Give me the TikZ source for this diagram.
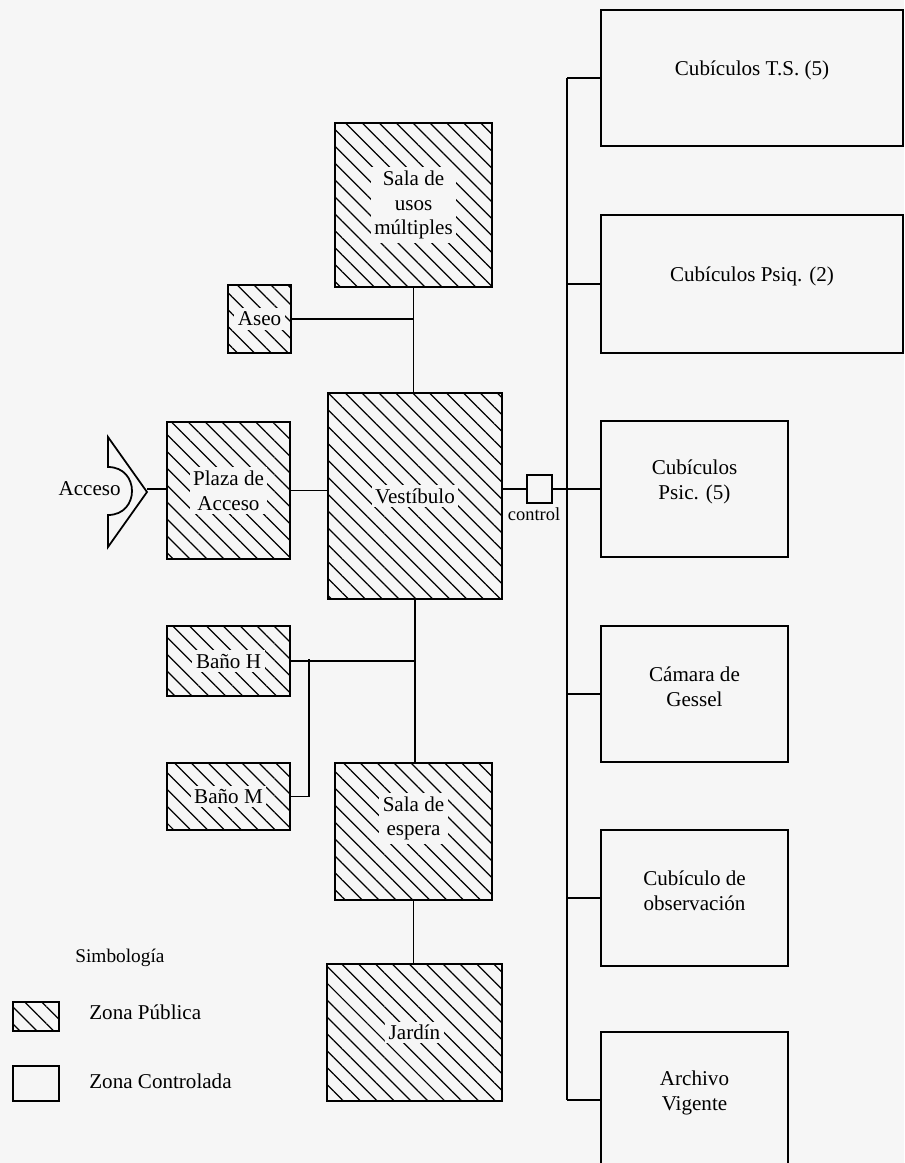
\documentclass[tikz,border=0pt]{standalone}
\usepackage{fontspec}
\setmainfont{Liberation Serif}
\usetikzlibrary{fit,patterns.meta}
\definecolor{papel}{gray}{0.965}
\tikzset{
  publica/.style={draw,line width=0.9pt,inner sep=0pt,
    pattern={Lines[angle=-45,distance=6.8pt,line width=0.7pt]}},
  controlada/.style={draw,line width=0.9pt,inner sep=0pt,align=center},
  rotulo/.style={fill=papel,inner sep=2pt,align=center},
  liga/.style={line width=1pt},
}
\begin{document}
\begin{tikzpicture}[x=0.02cm,y=-0.02cm,font=\fontsize{12}{14}\selectfont]
  \clip (0,0) rectangle (904,1163);
  \fill[papel] (0,0) rectangle (904,1163);
  % zona publica
  \node[publica,fit={(335,123) (492,287)},label={[rotulo]center:{Sala de\\usos\\múltiples}}] (salaum) {};
  \node[publica,fit={(228,285) (291,353)},label={[rotulo]center:Aseo}] (aseo) {};
  \node[publica,fit={(167,422) (290,559)},label={[rotulo]center:{Plaza de\\Acceso}}] (plaza) {};
  \node[publica,fit={(328,393) (502,599)},label={[rotulo]center:Vestíbulo}] (vest) {};
  \node[publica,fit={(167,626) (290,696)},label={[rotulo]center:Baño H}] (banoh) {};
  \node[publica,fit={(167,763) (290,830)},label={[rotulo]center:Baño M}] (banom) {};
  \node[publica,fit={(335,763) (492,900)},label={[rotulo,yshift=0.26cm]center:{Sala de\\espera}}] (espera) {};
  \node[publica,fit={(327,964) (502,1101)},label={[rotulo]center:Jardín}] (jardin) {};
  % zona controlada
  \node[controlada,fit={(601,10) (903,146)}] (cts) {Cubículos T.S. (5)};
  \node[controlada,fit={(601,215) (903,353)}] (cpsiq) {Cubículos Psiq. (2)};
  \node[controlada,fit={(601,421) (788,557)}] (cpsic) {Cubículos\\Psic. (5)};
  \node[controlada,fit={(601,626) (788,762)}] (gessel) {Cámara de\\Gessel};
  \node[controlada,fit={(601,830) (788,966)}] (obs) {Cubículo de\\observación};
  \node[controlada,fit={(601,1032) (788,1168)}] (archivo) {Archivo\\Vigente};
  \node[controlada,fit={(527,475) (552,503)}] (ctrl) {};
  \node[font=\fontsize{10.5}{12}\selectfont,inner sep=0pt] (ctrltxt) at (534,514) {control};
  % acceso
  \draw[line width=1pt] (108,437) -- (147,492) -- (108,547) -- (108,515)
    .. controls (140,515) and (140,467) .. (108,467) -- cycle;
  \coordinate (punta) at (147,489);
  \node[anchor=east,inner sep=0pt] (acceso) at (121,489) {Acceso};
  % ligas
  \draw[liga] (punta) -- (punta -| plaza.west);
  \draw[liga] (plaza.east) -- (plaza.east -| vest.west);
  \draw[liga] (salaum.south) -- (salaum.south |- vest.north);
  \draw[liga] (aseo.east) -- (aseo.east -| salaum.south);
  \draw[liga] (ctrl.west -| vest.east) -- (ctrl.west);
  \draw[liga] (ctrl.east) -- (ctrl.east -| cpsic.west);
  \draw[liga] (vest.south) -- (vest.south |- espera.north);
  \draw[liga] (banoh.east) -- (banoh.east -| vest.south);
  \coordinate (codo) at (309,659);
  \draw[liga] (banom.east) -| (codo);
  \draw[liga] (espera.south) -- (espera.south |- jardin.north);
  \coordinate (bus) at (567,0);
  \draw[liga] (cts.west -| bus) -- (archivo.west -| bus);
  \foreach \b in {cts,cpsiq,cpsic,gessel,obs,archivo}
    \draw[liga] (\b.west) -- (\b.west -| bus);
  % simbologia
  \node[anchor=west,inner sep=0pt,font=\fontsize{11}{13}\selectfont] (simbologia) at (75,958) {Simbología};
  \node[publica,fit={(13,1002) (59,1031)}] (leypub) {};
  \node[anchor=west,inner sep=0pt] (txtpub) at (89,1012) {Zona Pública};
  \node[controlada,fit={(13,1066) (59,1101)}] (leycon) {};
  \node[anchor=west,inner sep=0pt] (txtcon) at (89,1081) {Zona Controlada};
\end{tikzpicture}
\end{document}
